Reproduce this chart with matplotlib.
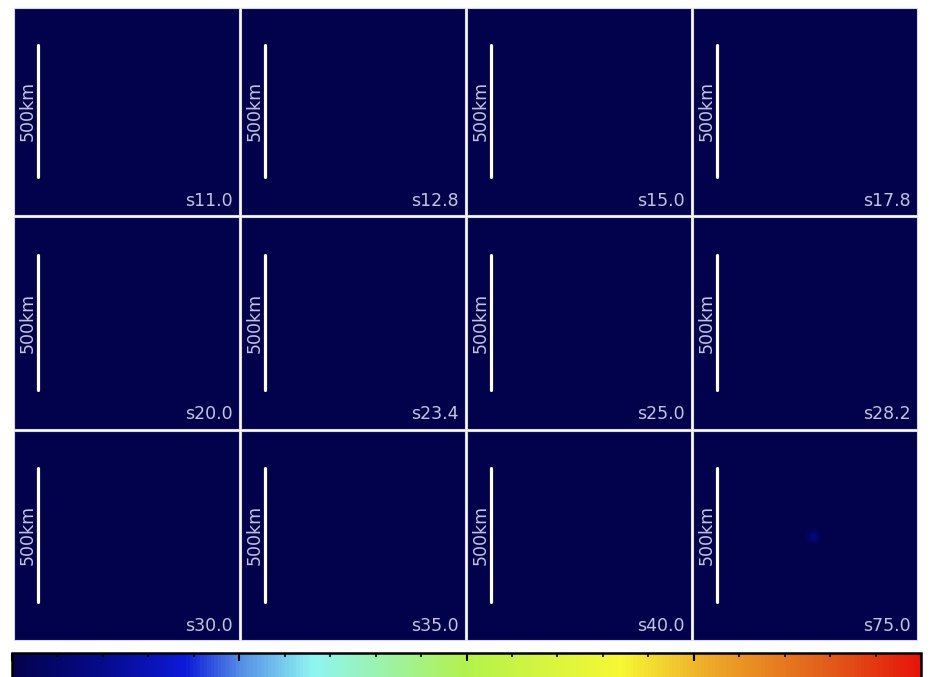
import numpy as np
import matplotlib
matplotlib.use("Agg")
import matplotlib.pyplot as plt
from matplotlib.colors import LinearSegmentedColormap

# panel labels (row-major, 3 rows x 4 columns)
labels = ["s11.0", "s12.8", "s15.0", "s17.8",
          "s20.0", "s23.4", "s25.0", "s28.2",
          "s30.0", "s35.0", "s40.0", "s75.0"]

# field content: peak value of the small blob in each panel (0 = empty)
blob_amp = [0, 0, 0, 0, 0, 0, 0, 0, 0, 0, 0, 0.09]
blob_x = [455] * 12      # km
blob_y = [385] * 12      # km
blob_r = [13] * 12       # km

# map extent and scale bar (km)
map_w, map_h = 845, 780
bar_x = 90
bar_y0, bar_y1 = 142, 642
bar_label = "500km"

# colour bar ticks (fraction of range)
cb_major = [0.0, 0.25, 0.5, 0.75, 1.0]
cb_minor = np.arange(0, 1.0001, 0.05)

cmap = LinearSegmentedColormap.from_list("idljet", [
    (0.00, (0.01, 0.01, 0.30)),
    (0.10, (0.02, 0.04, 0.55)),
    (0.19, (0.05, 0.10, 0.85)),
    (0.25, (0.33, 0.55, 0.90)),
    (0.33, (0.56, 0.96, 0.95)),
    (0.42, (0.62, 0.95, 0.62)),
    (0.50, (0.70, 0.95, 0.30)),
    (0.67, (0.97, 0.97, 0.20)),
    (0.77, (0.93, 0.66, 0.16)),
    (0.90, (0.88, 0.36, 0.10)),
    (1.00, (0.90, 0.08, 0.04)),
])

W, H = 932, 677
fig = plt.figure(figsize=(W / 100, H / 100), dpi=100)
fig.patch.set_facecolor("white")

col_edges = [13, 240, 466, 692, 918]
row_edges = [7, 216, 430, 641]
txt_col = "#c4c4de"

nx, ny = 169, 156
gx = np.linspace(0, map_w, nx)
gy = np.linspace(0, map_h, ny)
GX, GY = np.meshgrid(gx, gy)

im = None
for i, lab in enumerate(labels):
    r, c = divmod(i, 4)
    x0, x1 = col_edges[c] + 1, col_edges[c + 1] - 1
    y0, y1 = row_edges[r] + 1, row_edges[r + 1] - 1
    ax = fig.add_axes([x0 / W, 1 - y1 / H, (x1 - x0) / W, (y1 - y0) / H])
    field = np.zeros((ny, nx))
    if blob_amp[i] > 0:
        d2 = (GX - blob_x[i]) ** 2 + (GY - blob_y[i]) ** 2
        field += blob_amp[i] * np.exp(-d2 / (2 * blob_r[i] ** 2))
    im = ax.imshow(field, extent=[0, map_w, 0, map_h], origin="lower",
                   cmap=cmap, vmin=0, vmax=1, aspect="auto",
                   interpolation="bilinear")
    ax.plot([bar_x, bar_x], [bar_y0, bar_y1], color="white", lw=2.3,
            solid_capstyle="round")
    ax.text(50, (bar_y0 + bar_y1) / 2, bar_label, rotation=90, color=txt_col,
            ha="center", va="center", fontsize=12.5)
    ax.text(0.973, 0.045, lab, transform=ax.transAxes, color=txt_col,
            ha="right", va="baseline", fontsize=12.5)
    ax.set_xlim(0, map_w)
    ax.set_ylim(0, map_h)
    ax.set_xticks([])
    ax.set_yticks([])
    for s in ax.spines.values():
        s.set_color("#d8d8e8")
        s.set_linewidth(0.8)

# colour bar, running off the bottom edge
cx0, cx1, cy0, cy1 = 12, 921, 653, 688
cax = fig.add_axes([cx0 / W, 1 - cy1 / H, (cx1 - cx0) / W, (cy1 - cy0) / H])
cb = fig.colorbar(im, cax=cax, orientation="horizontal")
cb.outline.set_linewidth(1.8)
cb.outline.set_edgecolor("black")
cax.set_xticks(cb_major)
cax.set_xticks(cb_minor, minor=True)
cax.set_xticklabels([])
cax.tick_params(axis="x", which="both", direction="in", top=True, bottom=True,
                labelbottom=False, color="black")
cax.tick_params(axis="x", which="major", length=6, width=1.5)
cax.tick_params(axis="x", which="minor", length=3, width=1.2)

fig.savefig("out.png", dpi=100, facecolor="white")
